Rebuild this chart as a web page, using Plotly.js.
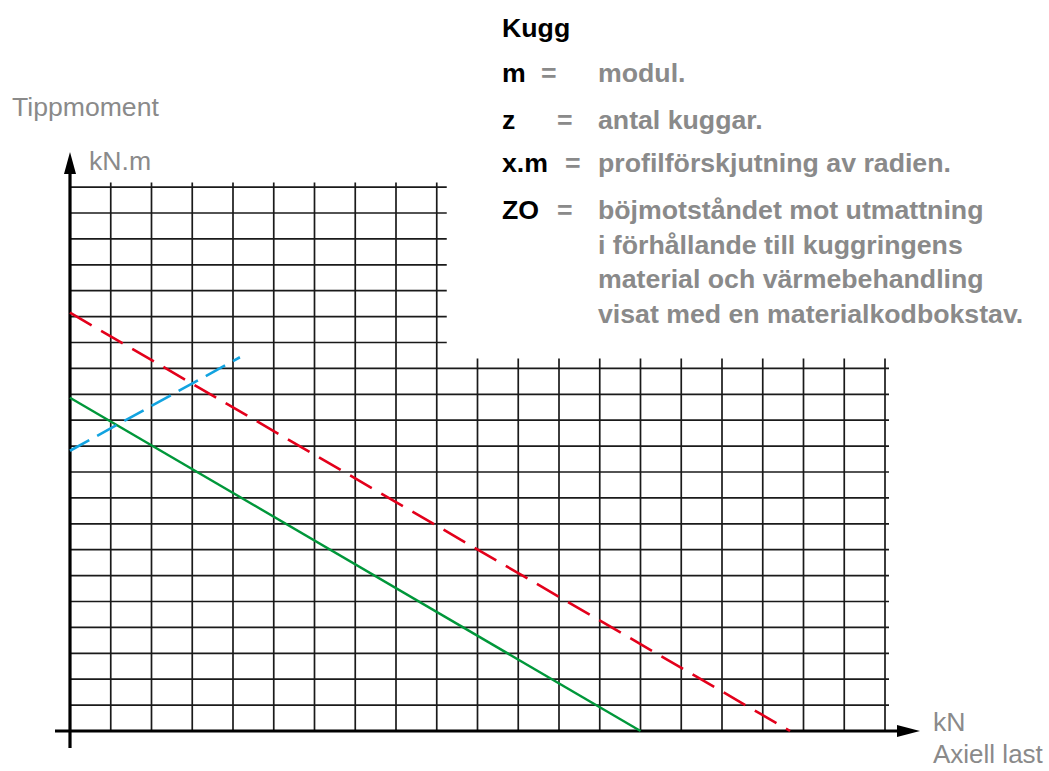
<!DOCTYPE html>
<html>
<head>
<meta charset="utf-8">
<script src="https://cdn.plot.ly/plotly-3.0.1.min.js"></script>
<style>
html,body{margin:0;padding:0;background:#fff;}
#chart{width:1049px;height:771px;}
</style>
</head>
<body>
<div id="chart"></div>
<script>
// ---- data (grid units: x = columns, y = rows) ----
const redX = [0, 17.67];
const redY = [16.15, 0];
const greenX = [0, 14.0];
const greenY = [12.87, 0];
const blueX = [0, 4.17];
const blueY = [10.82, 14.43];

// grid structure
const totalCols = 20;
const totalRowsLow = 14;
const leftCols = 9;
const totalRowsHigh = 21;

// texts
const yLabel = "Tippmoment";
const yUnit = "kN.m";
const xUnit = "kN";
const xLabel = "Axiell last";
const legendTitle = "Kugg";
const legendKeys = ["m", "z", "x.m", "ZO"];
const legendDesc = [
  ["modul."],
  ["antal kuggar."],
  ["profilförskjutning av radien."],
  ["böjmotståndet mot utmattning", "i förhållande till kuggringens", "material och värmebehandling", "visat med en materialkodbokstav."]
];

// ---- layout geometry ----
const W = 1049, H = 771;
const x0px = 70, y0px = 731, colPx = 40.75, rowPx = 25.9;
const xmin = -x0px / colPx, xmax = xmin + W / colPx;
const ymin = -(H - y0px) / rowPx, ymax = ymin + H / rowPx;
const dx = p => p / colPx, dy = p => p / rowPx;
const px = x => x / W, py = y => 1 - y / H;

const gridLine = {color: '#1a1a1a', width: 1.7};
const shapes = [];
function seg(xa, ya, xb, yb, line) {
  shapes.push({type: 'line', xref: 'x', yref: 'y', x0: xa, y0: ya, x1: xb, y1: yb, line: line, layer: 'below'});
}
// lower horizontals
for (let r = 1; r <= totalRowsLow; r++) seg(0, r, totalCols + dx(4), r, gridLine);
// upper horizontals (left region)
for (let r = totalRowsLow + 1; r <= totalRowsHigh; r++) seg(0, r, leftCols + dx(10), r, gridLine);
// verticals
for (let c = 1; c <= totalCols; c++) {
  if (c <= leftCols) seg(c, 0, c, totalRowsHigh + dy(4.5), gridLine);
  else seg(c, 0, c, totalRowsLow + dy(10), gridLine);
}
// axes
const axLine = {color: '#000', width: 3.2};
const yTip = dy(y0px - 152), yBase = dy(y0px - 174);
const xTip = dx(920 - x0px), xBase = dx(897 - x0px);
seg(0, -dy(17), 0, yBase + 0.1, axLine);
seg(-dx(15), 0, xBase + 0.1, 0, axLine);
shapes.push({type: 'path', xref: 'x', yref: 'y', fillcolor: '#000', line: {width: 0},
  path: `M ${-dx(6)} ${yBase} L ${dx(6)} ${yBase} L 0 ${yTip} Z`});
shapes.push({type: 'path', xref: 'x', yref: 'y', fillcolor: '#000', line: {width: 0},
  path: `M ${xBase} ${dy(6)} L ${xBase} ${-dy(6)} L ${xTip} 0 Z`});

const traces = [
  {x: greenX, y: greenY, mode: 'lines', line: {color: '#00973a', width: 2.4}},
  {x: redX, y: redY, mode: 'lines', line: {color: '#e3001b', width: 2.6, dash: '25px,11px'}},
  {x: blueX, y: blueY, mode: 'lines', line: {color: '#12a3e0', width: 2.6, dash: '22px,9px'}}
];

const gray = '#8a8a8a';
const FONT = 'Liberation Sans, Arial, sans-serif';
const ann = [];
function txt(t, x, y, size, color, bold) {
  ann.push({xref: 'paper', yref: 'paper', x: px(x), y: py(y), xanchor: 'left', yanchor: 'middle',
    text: bold ? '<b>' + t + '</b>' : t, showarrow: false,
    font: {family: FONT, size: size, color: color}});
}
const AS = 26.6;
txt(yLabel, 10, 107, AS, gray, false);
txt(yUnit, 87, 161, AS, gray, false);
txt(xUnit, 931, 722, AS, gray, false);
txt(xLabel, 931, 754, 26, gray, false);

const LS = 26.7;
txt(legendTitle, 500, 28, LS, '#000', true);
const keyY = [73, 120, 163, 210];
const eqX = [539, 555, 563, 555];
for (let i = 0; i < legendKeys.length; i++) {
  txt(legendKeys[i], 500, keyY[i], LS, '#000', true);
  txt('=', eqX[i], keyY[i], LS, gray, true);
  legendDesc[i].forEach((d, j) => txt(d, 596, keyY[i] + j * 34.7, LS, gray, true));
}

const layout = {
  width: W, height: H,
  margin: {l: 0, r: 0, t: 0, b: 0},
  paper_bgcolor: '#fff', plot_bgcolor: '#fff',
  showlegend: false, hovermode: false,
  xaxis: {range: [xmin, xmax], visible: false, fixedrange: true},
  yaxis: {range: [ymin, ymax], visible: false, fixedrange: true},
  shapes: shapes,
  annotations: ann
};
Plotly.newPlot('chart', traces, layout, {displayModeBar: false, staticPlot: true});
</script>
</body>
</html>
